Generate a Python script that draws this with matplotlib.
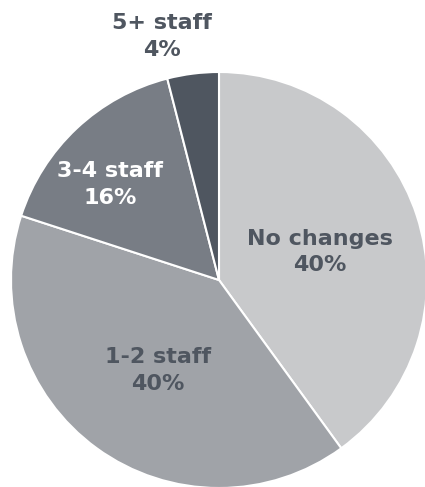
from matplotlib import pyplot as plt

categories = ["No changes", "1-2 staff", "3-4 staff", "5+ staff"]
shares = [40, 40, 16, 4]

colors = ["#c8c9cb", "#a0a3a8", "#787d85", "#4f5660"]
text_colors = ["#4f5660", "#4f5660", "#ffffff", "#4f5660"]
# label centres in axes data units (pie radius = 1)
label_pos = [(0.486, 0.135), (-0.293, -0.435), (-0.524, 0.46), (-0.272, 1.17)]

fig = plt.figure(figsize=(4.25, 4.87), dpi=100)
# pie centre at (219, 280) px, radius 208 px
ax = fig.add_axes([(219 - 208) / 425, (487 - 280 - 208) / 487, 416 / 425, 416 / 487])
ax.pie(shares, colors=colors, startangle=90, counterclock=False, radius=1,
       wedgeprops=dict(edgecolor="white", linewidth=1.5))
ax.set_xlim(-1, 1)
ax.set_ylim(-1, 1)
ax.set_aspect("equal")
ax.axis("off")

for name, v, (x, y), c in zip(categories, shares, label_pos, text_colors):
    ax.text(x, y, f"{name}\n{v}%", ha="center", va="center", color=c,
            fontsize=16, fontweight="bold", linespacing=1.4, clip_on=False)

fig.savefig("out.png", dpi=100)
